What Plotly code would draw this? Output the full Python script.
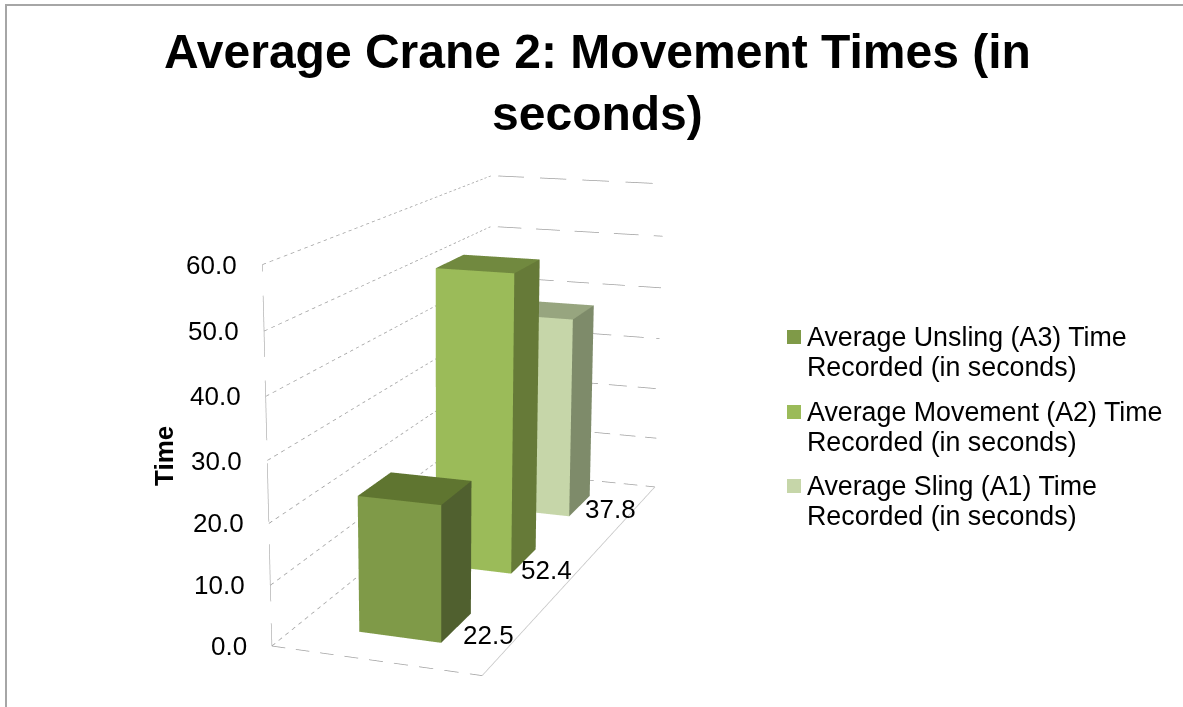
import numpy as np
import plotly.graph_objects as go

W, H = 1183, 707
TITLE = "Average Crane 2: Movement Times (in<br>seconds)"
AXIS_TITLE = "Time"
CATEGORIES = ["Average Unsling (A3) Time<br>Recorded (in seconds)",
              "Average Movement (A2) Time<br>Recorded (in seconds)",
              "Average Sling (A1) Time<br>Recorded (in seconds)"]
VALUES = [22.5, 52.4, 37.8]
TICKS = [0, 10, 20, 30, 40, 50, 60]
FRONT = ["#7f9a48", "#9bbb59", "#c6d6a9"]
TOP = ["#5f7530", "#71893f", "#97a57f"]
SIDE = ["#50602f", "#667a38", "#7e8b6a"]

# View: the source uses an oblique 3D projection, reproduced by a shear of the hidden scene axes.
SCENE_W = 880
RANGE = [-2, 3]
SHEAR_X_BY_DEPTH, SHEAR_Z_BY_DEPTH, SHEAR_Z_BY_X = 0.8651, 0.2816, -0.0340
ASPECT_Y, ASPECT_Z = 1.4927, 1.7929
EYE = dict(x=0.9214, y=-4.3994, z=0.9589)
CENTER = dict(x=0.1669, y=0.0784, z=0.4112)
DEPTH = len(VALUES)
ZMAX = TICKS[-1]
F = "Liberation Sans"


def T(x, y, z):
    u, v, w = np.asarray(x, float), np.asarray(y, float) / DEPTH, np.asarray(z, float) / ZMAX
    return u + SHEAR_X_BY_DEPTH * v, v, w + SHEAR_Z_BY_DEPTH * v + SHEAR_Z_BY_X * u


def dashed(p0, p1, period, duty, offset=0.0):
    p0, p1 = np.array(p0, float), np.array(p1, float)
    out = []
    for t in np.arange(offset, 1, period):
        a, b = max(t, 0), min(t + period * duty, 1)
        if b > a:
            out += [p0 + (p1 - p0) * a, p0 + (p1 - p0) * b, [np.nan] * 3]
    return np.array(out).T


fig = go.Figure()


def seg(pts, color, width=1.5):
    X, Y, Z = T(*pts)
    fig.add_trace(go.Scatter3d(x=X.tolist(), y=Y.tolist(), z=Z.tolist(), mode="lines",
                               line=dict(color=color, width=width), showlegend=False, hoverinfo="skip"))


for i, v in enumerate(VALUES):
    x0, x1, y0, y1 = 0.3, 0.7, i + 0.3, i + 0.7
    X, Y, Z = T([x0, x1, x1, x0, x0, x1, x1, x0], [y0, y0, y1, y1, y0, y0, y1, y1], [0, 0, 0, 0, v, v, v, v])
    fig.add_trace(go.Mesh3d(x=X, y=Y, z=Z, i=[0, 0, 4, 4, 1, 1], j=[1, 5, 5, 6, 2, 6], k=[5, 4, 6, 7, 6, 5],
                            facecolor=[FRONT[i]] * 2 + [TOP[i]] * 2 + [SIDE[i]] * 2, flatshading=True,
                            lighting=dict(ambient=1, diffuse=0, specular=0, fresnel=0, roughness=1),
                            showscale=False, hoverinfo="skip", name=CATEGORIES[i].replace("<br>", " ")))

for t in TICKS:
    seg(dashed([0, 0, t], [0, DEPTH, t], 0.024, 0.5), "#a0a0a0")
    seg(dashed([0, DEPTH, t], [1, DEPTH, t], (22 + t / 3) / 170, 0.62, 0.04), "#a0a0a0")
seg(dashed([0, 0, 0], [1, 0, 0], 0.118, 0.56), "#a0a0a0")
seg(([1, 1], [0, DEPTH], [0, 0]), "#c4c4c4")
seg(dashed([0, 0, 0], [0, 0, ZMAX], 0.215, 0.72, -0.092), "#b4b4b4")


def scene_text(x, y, z, **kw):
    X, Y, Z = T(x, y, z)
    return dict(x=float(X), y=float(Y), z=float(Z), showarrow=False,
                font=dict(family=F, size=26, color="#000"), **kw)


LABEL_SHIFT = [(5, -7), (-5, -9), (3, -3)]
scene_ann = [scene_text(0, 0, t, text=f"{t:.1f}", xanchor="right", xshift=-23) for t in TICKS]
scene_ann += [scene_text(0.7, i + 0.5, 0, text=f"{v:.1f}", xanchor="left", xshift=LABEL_SHIFT[i][0], yshift=LABEL_SHIFT[i][1])
              for i, v in enumerate(VALUES)]

shapes = [dict(type="line", xref="paper", yref="paper", x0=6 / W, x1=6 / W, y0=0, y1=1 - 5 / H, line=dict(color="#a6a6a6", width=2)),
          dict(type="line", xref="paper", yref="paper", x0=5 / W, x1=1, y0=1 - 5 / H, y1=1 - 5 / H, line=dict(color="#a6a6a6", width=2))]
page_ann = [dict(x=147 / W, y=1 - 456 / H, xref="paper", yref="paper", text=f"<b>{AXIS_TITLE}</b>", textangle=-90,
                 showarrow=False, font=dict(family=F, size=26, color="#000"))]
LEGEND_Y = [337, 412, 486]
for i, name in enumerate(CATEGORIES):
    for k, line in enumerate(name.split("<br>")):
        page_ann.append(dict(x=805 / W, y=1 - (LEGEND_Y[i] + k * 30) / H, xref="paper", yref="paper", xanchor="left",
                             yanchor="middle", text=line, showarrow=False, font=dict(family=F, size=26.8, color="#000")))
    shapes.append(dict(type="rect", xref="paper", yref="paper", x0=787 / W, x1=801 / W, y0=1 - (LEGEND_Y[i] + 7) / H,
                       y1=1 - (LEGEND_Y[i] - 7) / H, fillcolor=FRONT[i], line=dict(width=0)))

L = RANGE[1] - RANGE[0]
fig.update_layout(
    width=W, height=H, margin=dict(l=0, r=0, t=0, b=0), paper_bgcolor="#fff", showlegend=False,
    font=dict(family=F, size=26, color="#000"),
    title=dict(text=TITLE, x=0.505, xanchor="center", y=0.904, yanchor="top",
               font=dict(family=F, size=48, weight="bold", color="#000")),
    scene=dict(domain=dict(x=[0, SCENE_W / W], y=[0, 1]),
               xaxis=dict(range=RANGE, visible=False), yaxis=dict(range=[0, 1], visible=False),
               zaxis=dict(range=RANGE, visible=False),
               aspectmode="manual", aspectratio=dict(x=L, y=ASPECT_Y, z=L * ASPECT_Z),
               camera=dict(eye=EYE, center=CENTER, up=dict(x=0, y=0, z=1), projection=dict(type="perspective")),
               annotations=scene_ann),
    annotations=page_ann, shapes=shapes)
fig.write_html("out.html", post_script="document.body.style.margin='0';", config={"displayModeBar": False})
